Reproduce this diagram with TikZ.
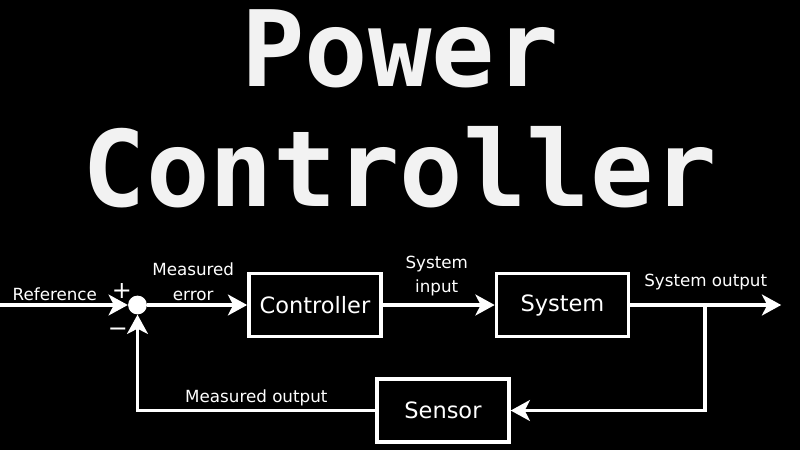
\documentclass[tikz,border=0pt]{standalone}
\usepackage{fontspec}
\setmainfont{DejaVu Sans}
\setmonofont{DejaVu Sans Mono}
\usetikzlibrary{arrows.meta,positioning}
\definecolor{titlewhite}{HTML}{F2F2F2}
\tikzset{
  box/.style={draw=white,line width=2.5pt,minimum width=3.3cm,minimum height=1.575cm,text=white,font=\fontsize{16}{19}\selectfont},
  sumpoint/.style={circle,fill=white,minimum size=0.47cm,inner sep=0pt},
  tag/.style={text=white,align=center,font=\fontsize{11.9}{17.5}\selectfont,inner sep=2pt},
  sign/.style={text=white,font=\fontsize{17}{20}\selectfont,inner sep=0pt},
  title/.style={text=titlewhite,font=\ttfamily\bfseries\fontsize{75}{90}\selectfont,inner sep=0pt,anchor=base},
  arrow/.style={-{Stealth[length=0.48cm,width=0.52cm,inset=0.13cm]},line width=2.5pt,draw=white}
}
\begin{document}
\begin{tikzpicture}
\useasboundingbox (0,0) rectangle (20,11.25);
\fill[black] (0,0) rectangle (20,11.25);
\node[title] (t1) at (10,9.075) {Power};
\node[title] (t2) at (10,6.075) {Controller};
\node[sumpoint] (sum) at (3.4375,3.625) {};
\node[sign] (plus) at ([shift={(-0.39,0.36)}]sum.center) {+};
\node[sign] (minus) at ([shift={(-0.49,-0.68)}]sum.center) {−};
\coordinate[left=3.2cm of sum] (ref);
\node[box,right=2.5cm of sum] (ctrl) {Controller};
\node[box,right=2.8cm of ctrl] (sys) {System};
\coordinate[right=1.875cm of sys] (branch);
\coordinate[right=3.775cm of sys] (out);
\node[box,below=0.975cm of ctrl,xshift=3.2cm] (sensor) {Sensor};
\draw[arrow] (ref) -- node[tag,above,pos=0.43] {Reference} (sum);
\draw[arrow] (sum) -- node[tag,above,xshift=-0.1cm] {Measured\\error} (ctrl);
\draw[arrow] (ctrl) -- node[tag,above,xshift=-0.05cm,yshift=0.1cm] {System\\input} (sys);
\draw[arrow] (sys) -- node[tag,above,yshift=0.25cm] {System output} (out);
\draw[arrow] (branch) |- (sensor);
\draw[arrow] (sensor) -| node[tag,above,pos=0.25] {Measured output} (sum);
\end{tikzpicture}
\end{document}
